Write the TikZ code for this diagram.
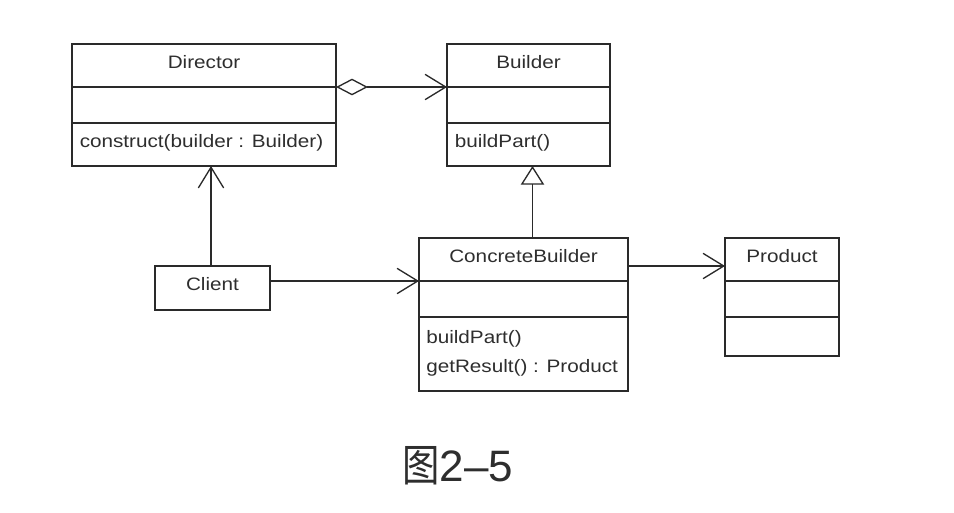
\documentclass[tikz,border=0pt]{standalone}
\usepackage{fontspec}
\setmainfont{Liberation Sans}[FakeStretch=1.15]
\newfontfamily\capfont{Noto Sans CJK SC}[FakeStretch=0.85]
\newfontfamily\capsans{Liberation Sans}
\usepackage{tikz}
\usetikzlibrary{
    arrows.meta, positioning, calc
}
\definecolor{lineDark}{HTML}{2A2A2A}
\definecolor{textDark}{HTML}{2E2E2E}
\tikzset{
    classbox/.style={draw=lineDark, line width=1.1pt, fill=white, inner sep=0pt, outer sep=0pt},
    sepline/.style={draw=lineDark, line width=2.1pt},
    classtext/.style={font=\fontsize{13.5}{16}\selectfont, text=textDark, inner sep=0pt},
    assoc/.style={draw=lineDark, line width=1pt, -{Straight Barb[length=15.5pt, width=19pt]}},
    aggr/.style={draw=lineDark, line width=1pt, {Diamond[open, length=24pt, width=12.5pt]}-{Straight Barb[length=15.5pt, width=19pt]}},
    inherit/.style={draw=lineDark, line width=1pt, -{Triangle[open, length=14pt, width=17.5pt]}}
}
% class box: name, left, top, right, bottom, title
\newcommand{\DrawClass}[6]{
    \pgfmathsetmacro{\cw}{(#4-#2)*0.75}
    \pgfmathsetmacro{\ch}{(#5-#3)*0.75}
    \node[classbox, minimum width=\cw pt, minimum height=\ch pt] (#1) at ({(#2+#4)/2}, {(#3+#5)/2}) {};
    \draw[sepline] (#2, #3+43) coordinate (#1-a-w) -- (#4, #3+43) coordinate (#1-a-e);
    \draw[sepline] (#2, #3+79) coordinate (#1-b-w) -- (#4, #3+79) coordinate (#1-b-e);
    \node[classtext, anchor=base] (#1-name) at ({(#2+#4)/2}, #3+24) {#6};
}

\begin{document}
\begin{tikzpicture}[x=0.75pt, y=-0.75pt]
        \useasboundingbox (0, 0) rectangle (954, 512);

        % Classes
        \DrawClass{director}{72}{44}{336}{166}{Director}
        \DrawClass{builder}{447}{44}{610}{166}{Builder}
        \DrawClass{concreteBuilder}{419}{238}{628}{391}{ConcreteBuilder}
        \DrawClass{product}{725}{238}{839}{356}{Product}
        \node[classbox, minimum width=86.25pt, minimum height=33pt] (client) at (212.5, 288) {};
        \node[classtext, anchor=base] (client-name) at (212.5, 290.5) {Client};

        % Operations
        \node[classtext, anchor=base west] (director-op1) at (79.5, 147) {construct(builder : Builder)};
        \node[classtext, anchor=base west] (builder-op1) at (454.5, 147) {buildPart()};
        \node[classtext, anchor=base west] (concreteBuilder-op1) at (426, 343) {buildPart()};
        \node[classtext, anchor=base west] (concreteBuilder-op2) at (426, 372.5) {getResult() : Product};

        % Relations
        \draw[aggr] (director-a-e) -- (builder-a-w);
        \draw[inherit] ([xshift=3pt]builder.south |- concreteBuilder.north) -- ([xshift=3pt]builder.south);
        \draw[assoc] (client.north -| 211, 0) -- (director.south -| 211, 0);
        \draw[assoc] (client.east |- concreteBuilder-a-w) -- (concreteBuilder-a-w);
        \draw[assoc] ([yshift=-21pt]concreteBuilder.north east) -- ([yshift=-21pt]product.north west);

        % Caption
        \node[font=\fontsize{33}{36}\selectfont, text=textDark, anchor=base, inner sep=0pt] (caption) at (458, 481) {{\capfont 图}{\capsans 2–5}};

    \end{tikzpicture}
\end{document}
